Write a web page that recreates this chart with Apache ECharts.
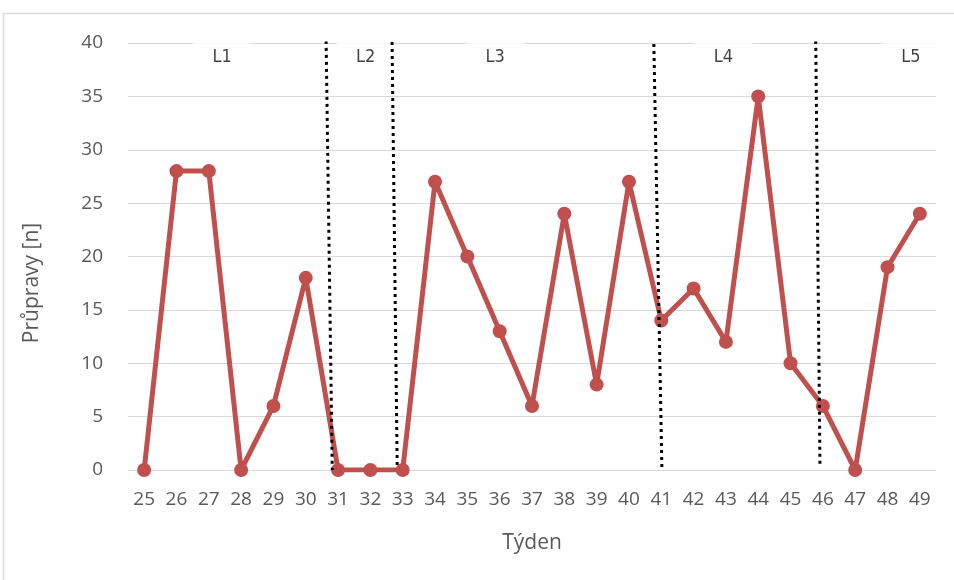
<!DOCTYPE html>
<html>
<head>
<meta charset="utf-8">
<script src="https://cdn.jsdelivr.net/npm/echarts@6/dist/echarts.min.js"></script>
<style>
  html, body { margin: 0; padding: 0; background: #fff; }
  #chart { width: 954px; height: 580px; }
</style>
</head>
<body>
<div id="chart"></div>
<script>
// Weekly counts of preparations (Průpravy) per week
const weeks = [25, 26, 27, 28, 29, 30, 31, 32, 33, 34, 35, 36, 37, 38, 39, 40, 41, 42, 43, 44, 45, 46, 47, 48, 49];
const counts = [0, 28, 28, 0, 6, 18, 0, 0, 0, 27, 20, 13, 6, 24, 8, 27, 14, 17, 12, 35, 10, 6, 0, 19, 24];

// Y axis ticks
const yTicks = [0, 5, 10, 15, 20, 25, 30, 35, 40];

// Phase dividers, in week units: [week at top, value at top, week at bottom, value at bottom]
const dividers = [
  [30.63, 40.2, 30.82, 0.0],
  [32.67, 40.1, 32.83, 0.2],
  [40.77, 39.9, 41.02, 0.0],
  [45.78, 40.2, 45.91, 0.3]
];

// Phase labels and their position in week units
const phaseNames = ['L1', 'L2', 'L3', 'L4', 'L5'];
const phaseWeeks = [27.41, 31.85, 35.86, 42.92, 48.72];
const phaseLevel = 40;

const chart = echarts.init(document.getElementById('chart'), null, { renderer: 'canvas' });

const tickFont = 'Open Sans';
const gray = '#595959';

const dividerSeries = dividers.map(d => ({
  type: 'line',
  xAxisIndex: 1,
  data: [[d[0], d[1]], [d[2], d[3]]],
  symbol: 'none',
  silent: true,
  z: 5,
  lineStyle: { color: '#000', width: 3, type: [3, 4] },
  animation: false
}));

const option = {
  animation: false,
  backgroundColor: '#fff',
  grid: { left: 128, right: 18, top: 43, bottom: 110, containLabel: false },
  xAxis: [
    {
      type: 'category',
      data: weeks.map(String),
      boundaryGap: true,
      name: 'Týden',
      nameLocation: 'middle',
      nameGap: 63,
      nameTextStyle: { fontFamily: tickFont, fontSize: 21, color: gray },
      axisLine: { show: true, lineStyle: { color: '#d9d9d9', width: 1 } },
      axisTick: { show: false },
      axisLabel: { fontFamily: tickFont, fontSize: 19, color: gray, margin: 20 },
      splitLine: { show: false }
    },
    {
      type: 'value',
      min: weeks[0] - 0.5,
      max: weeks[weeks.length - 1] + 0.5,
      show: false
    }
  ],
  yAxis: {
    type: 'value',
    min: yTicks[0],
    max: yTicks[yTicks.length - 1],
    interval: yTicks[1] - yTicks[0],
    axisLine: { show: false },
    axisTick: { show: false },
    axisLabel: { fontFamily: tickFont, fontSize: 19, color: gray, margin: 25 },
    splitLine: { show: true, lineStyle: { color: '#d9d9d9', width: 1 } }
  },
  graphic: [
    {
      type: 'rect',
      shape: { x: 3.5, y: 13.5, width: 1200, height: 1200 },
      style: { fill: 'none', stroke: '#d9d9d9', lineWidth: 1.5 },
      silent: true,
      z: -10
    },
    {
      type: 'text',
      x: 32,
      y: 283,
      rotation: Math.PI / 2,
      style: {
        text: 'Průpravy [n]',
        fontFamily: tickFont,
        fontSize: 21,
        fill: gray,
        align: 'center',
        verticalAlign: 'middle'
      }
    }
  ],
  series: [
    {
      type: 'line',
      data: counts,
      symbol: 'circle',
      symbolSize: 14,
      z: 3,
      lineStyle: { color: '#C0504D', width: 5 },
      itemStyle: { color: '#C0504D' }
    },
    {
      type: 'scatter',
      xAxisIndex: 1,
      data: phaseWeeks.map((w, i) => [w, phaseLevel, phaseNames[i]]),
      symbolSize: 0,
      z: 4,
      silent: true,
      label: {
        show: true,
        position: 'inside',
        offset: [0, 14],
        formatter: p => p.data[2],
        fontFamily: 'DejaVu Sans Condensed',
        fontSize: 18,
        color: '#111',
        backgroundColor: '#fff',
        width: 58,
        height: 30,
        align: 'center',
        verticalAlign: 'middle',
        lineHeight: 30
      }
    },
    ...dividerSeries
  ]
};

chart.setOption(option);
</script>
</body>
</html>
